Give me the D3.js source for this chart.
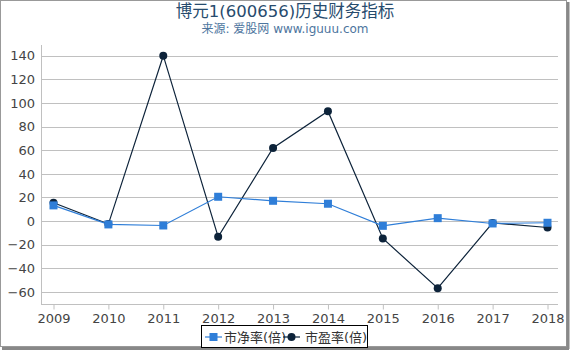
<!DOCTYPE html>
<html><head><meta charset="utf-8">
<script src="https://cdn.jsdelivr.net/npm/d3@7"></script>
<style>body{margin:0;background:#fff}svg{display:block;font-family:"DejaVu Sans","Noto Sans CJK SC",sans-serif}</style>
</head><body>
<svg id="c" width="570" height="350"></svg>
<script>
const years = ["2009","2010","2011","2012","2013","2014","2015","2016","2017","2018"];
const pbValues = [13.3, -2.8, -3.7, 20.6, 17.2, 14.7, -4, 2.5, -2, -1.4];
const peValues = [15.5, -2.5, 140, -13.3, 61.9, 93, -14.7, -56.8, -1.5, -5.4];
const yTicks = [-60,-40,-20,0,20,40,60,80,100,120,140];
const seriesNames = ["市净率(倍)", "市盈率(倍)"];
const colors = ["#2f7ed8", "#0d233a"];

const svg = d3.select("#c");
// border
svg.append("rect").attr("x",0.5).attr("y",0.5).attr("width",566).attr("height",346)
  .attr("fill","#fff").attr("stroke","#999");
svg.append("line").attr("x1",568).attr("x2",568).attr("y1",2).attr("y2",349).attr("stroke","#888").attr("stroke-width",3);
svg.append("line").attr("x1",2).attr("x2",569).attr("y1",348.5).attr("y2",348.5).attr("stroke","#888").attr("stroke-width",3);

svg.append("text").attr("x",285).attr("y",17).attr("text-anchor","middle")
  .attr("font-size",16.5).attr("fill","#274b6d").text("博元1(600656)历史财务指标");
svg.append("text").attr("x",285).attr("y",33).attr("text-anchor","middle")
  .attr("font-size",12).attr("fill","#4d759e").text("来源: 爱股网 www.iguuu.com");

const pLeft = 41, pRight = 558, pTop = 45, pBottom = 304;
const x = d3.scalePoint().domain(years).range([53.5, 547.5]);
const y = d3.scaleLinear().domain([-60, 140]).range([292, 55.7]);

// gridlines
svg.append("g").selectAll("line").data(yTicks).join("line")
  .attr("x1", pLeft).attr("x2", pRight)
  .attr("y1", d => Math.round(y(d))+0.5).attr("y2", d => Math.round(y(d))+0.5)
  .attr("stroke", "#c0c0c0").attr("stroke-width",1);

// y axis line
svg.append("line").attr("x1",pLeft+0.5).attr("x2",pLeft+0.5).attr("y1",pTop).attr("y2",pBottom)
  .attr("stroke","#c0c0c0");
// x axis
const xAxis = d3.axisBottom(x).tickSize(5).tickPadding(4);
const gx = svg.append("g").attr("transform",`translate(0,${pBottom+0.5})`).call(xAxis);
gx.select(".domain").attr("d",`M${pLeft},0H${pRight}`).attr("stroke","#c0c0c0");
gx.selectAll(".tick line").attr("stroke","#c0c0c0");
gx.selectAll(".tick text").attr("font-size",13).attr("fill","#444").attr("font-family","DejaVu Sans");

// y labels
const yAxis = d3.axisLeft(y).tickValues(yTicks).tickSize(0).tickPadding(6);
const gy = svg.append("g").attr("transform",`translate(${pLeft},0)`).call(yAxis);
gy.select(".domain").remove();
gy.selectAll(".tick text").attr("font-size",13).attr("fill","#444").attr("font-family","DejaVu Sans");

const line = d3.line().x((d,i)=>x(years[i])).y(d=>y(d));
// PE
svg.append("path").datum(peValues).attr("d",line).attr("fill","none").attr("stroke",colors[1]).attr("stroke-width",1.2);
svg.append("g").selectAll("circle").data(peValues).join("circle")
  .attr("cx",(d,i)=>x(years[i])).attr("cy",d=>y(d)).attr("r",4).attr("fill",colors[1]);
// PB
svg.append("path").datum(pbValues).attr("d",line).attr("fill","none").attr("stroke",colors[0]).attr("stroke-width",1.2);
svg.append("g").selectAll("rect").data(pbValues).join("rect")
  .attr("x",(d,i)=>x(years[i])-4).attr("y",d=>y(d)-4).attr("width",8).attr("height",8).attr("fill",colors[0]);

// legend
const lg = svg.append("g");
lg.append("rect").attr("x",201.5).attr("y",325.5).attr("width",166).attr("height",22)
  .attr("fill","#fff").attr("stroke","#000");
const items = [{x:205, tx:224}, {x:283, tx:305}];
items.forEach((it,i)=>{
  lg.append("line").attr("x1",it.x).attr("x2",it.x+17).attr("y1",337).attr("y2",337).attr("stroke",colors[i]).attr("stroke-width",1.2);
  if(i===0) lg.append("rect").attr("x",it.x+4.5).attr("y",333).attr("width",8).attr("height",8).attr("fill",colors[0]);
  else lg.append("circle").attr("cx",it.x+8.5).attr("cy",337).attr("r",4).attr("fill",colors[1]);
  lg.append("text").attr("x",it.tx).attr("y",342).attr("font-size",13).attr("fill","#333").text(seriesNames[i]);
});
</script>
</body></html>
